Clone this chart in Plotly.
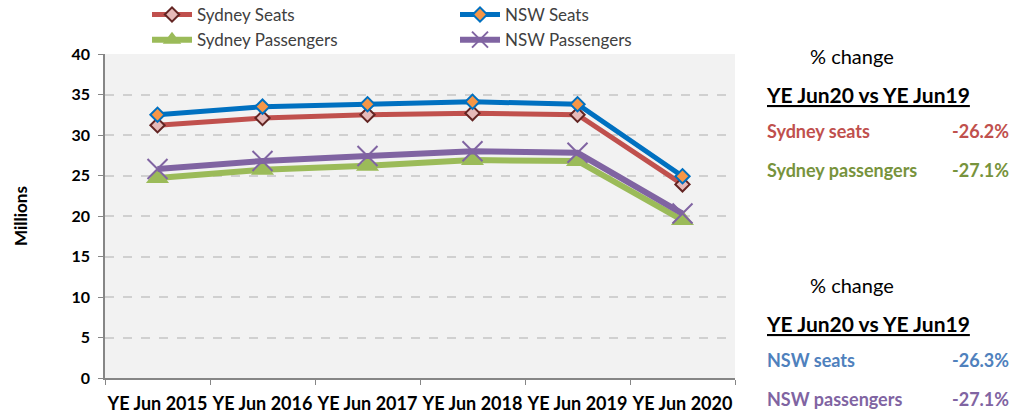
import plotly.graph_objects as go

categories = ["YE Jun 2015", "YE Jun 2016", "YE Jun 2017", "YE Jun 2018", "YE Jun 2019", "YE Jun 2020"]
sydney_seats = [31.2, 32.1, 32.5, 32.7, 32.5, 23.9]
nsw_seats = [32.5, 33.5, 33.8, 34.1, 33.8, 24.9]
sydney_pax = [24.7, 25.7, 26.2, 26.9, 26.8, 19.5]
nsw_pax = [25.8, 26.8, 27.4, 28.0, 27.8, 20.3]

FONT = "Lato"
fig = go.Figure()

fig.add_trace(go.Scatter(x=categories, y=sydney_seats, name="Sydney Seats", mode="lines+markers",
                         legend="legend",
                         line=dict(color="#c0504d", width=5),
                         marker=dict(symbol="diamond", size=11, color="#e6b9b8",
                                     line=dict(color="#632523", width=2))))
fig.add_trace(go.Scatter(x=categories, y=nsw_seats, name="NSW Seats", mode="lines+markers",
                         legend="legend2",
                         line=dict(color="#0070c0", width=5),
                         marker=dict(symbol="diamond", size=11, color="#f79646",
                                     line=dict(color="#0070c0", width=2))))
fig.add_trace(go.Scatter(x=categories, y=sydney_pax, name="Sydney Passengers", mode="lines+markers",
                         legend="legend",
                         line=dict(color="#9bbb59", width=6),
                         marker=dict(symbol="triangle-up", size=20, color="#9bbb59",
                                     line=dict(color="#9bbb59", width=0))))
fig.add_trace(go.Scatter(x=categories, y=nsw_pax, name="NSW Passengers", mode="lines+markers",
                         legend="legend2",
                         line=dict(color="#8064a2", width=6),
                         marker=dict(symbol="x-thin-open", size=20, color="#8064a2",
                                     line=dict(color="#8064a2", width=2))))

def px_x(px):
    return (px - 105) / (735 - 105)

def px_y(py):
    return (378 - py) / (378 - 54)

legend_common = dict(orientation="v", yanchor="top", xanchor="left", traceorder="normal",
                     font=dict(family=FONT, size=17, color="#404040"),
                     bgcolor="rgba(0,0,0,0)", tracegroupgap=0, itemwidth=40)

fig.update_layout(
    width=1015, height=417,
    margin=dict(l=105, r=280, t=54, b=39, autoexpand=False),
    paper_bgcolor="white", plot_bgcolor="#f2f2f2",
    font=dict(family=FONT, color="#000000"),
    showlegend=True,
    legend=dict(x=px_x(147), y=px_y(-3), **legend_common),
    legend2=dict(x=px_x(455), y=px_y(-3), **legend_common),
)
fig.update_xaxes(type="category", tickson="boundaries", ticks="outside", ticklen=5,
                 tickcolor="#868686", showline=True, linecolor="#868686", linewidth=1.5,
                 showgrid=False, tickangle=0, ticklabelstandoff=9,
                 tickfont=dict(family=FONT, size=18, color="#000000", weight="bold"),
                 range=[-0.5, 5.5], automargin=False)
fig.update_yaxes(range=[0, 40], dtick=5, ticks="outside", ticklen=5, tickcolor="#868686",
                 showline=True, linecolor="#868686", linewidth=1.5,
                 showgrid=True, gridcolor="#d0d0d0", griddash="dash", gridwidth=1.5,
                 zeroline=False, automargin=False, ticklabelstandoff=5,
                 tickfont=dict(family=FONT, size=16, color="#000000", weight="bold"))

def ann(text, x, y, color="#000000", size=17, xanchor="left", angle=0):
    fig.add_annotation(text=text, x=px_x(x), y=px_y(y), xref="paper", yref="paper", showarrow=False,
                       xanchor=xanchor, yanchor="middle", textangle=angle,
                       font=dict(family=FONT, size=size, color=color))

ann("<b>Millions</b>", 20, 216, size=17, xanchor="center", angle=-90)

ann("% change", 808, 56, size=20)
ann("<b><span style='text-decoration:underline'>YE Jun20 vs YE Jun19</span></b>", 764, 94, size=21)
ann("<b>Sydney seats</b>", 765, 131, color="#c0504d", size=18)
ann("<b>-26.2%</b>", 1011, 131, color="#c0504d", size=18, xanchor="right")
ann("<b>Sydney passengers</b>", 765, 170, color="#77933c", size=18)
ann("<b>-27.1%</b>", 1011, 170, color="#77933c", size=18, xanchor="right")

ann("% change", 808, 285, size=20)
ann("<b><span style='text-decoration:underline'>YE Jun20 vs YE Jun19</span></b>", 764, 323, size=21)
ann("<b>NSW seats</b>", 765, 360, color="#4f81bd", size=18)
ann("<b>-26.3%</b>", 1011, 360, color="#4f81bd", size=18, xanchor="right")
ann("<b>NSW passengers</b>", 765, 399, color="#8064a2", size=18)
ann("<b>-27.1%</b>", 1011, 399, color="#8064a2", size=18, xanchor="right")

fig.write_html("out.html", config={"displayModeBar": False},
               post_script="document.body.style.margin='0';document.body.style.overflow='hidden';")
